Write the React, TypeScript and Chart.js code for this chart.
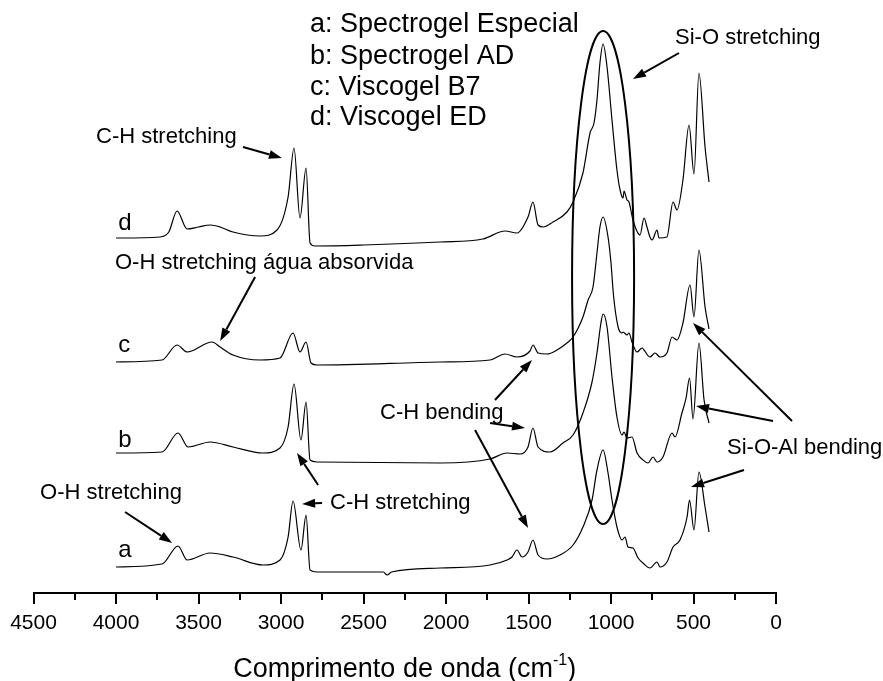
import React, { useEffect, useRef } from 'react';
import { Chart, registerables } from 'chart.js';

Chart.register(...registerables);

const FONT = "'Liberation Sans', Arial, Helvetica, sans-serif";

// ---- Spectra (wavenumber cm-1, absorbance + vertical offset, a.u.) ----
const A_WN = [4000, 3721, 3624, 3569, 3430, 3291, 3109, 3006, 2957, 2927, 2879, 2848, 2824, 2782, 2380, 2357, 2330, 2036, 1733, 1630, 1600, 1570, 1539, 1503, 1473, 1442, 1388, 1309, 1230, 1170, 1115, 1085, 1048, 1018, 994, 964, 933, 915, 897, 867, 836, 806, 764, 721, 703, 661, 624, 582, 539, 524, 497, 467, 430, 406];
const A_ABS = [2.6, 2.9, 4.7, 3.3, 4.0, 3.6, 2.8, 3.3, 5.6, 9.2, 4.3, 7.8, 2.3, 2.1, 2.1, 1.8, 2.1, 2.5, 2.8, 3.3, 3.6, 4.3, 3.6, 4.1, 5.3, 3.8, 3.4, 3.8, 4.8, 6.6, 9.3, 12.3, 14.3, 12.0, 9.3, 6.6, 5.3, 5.6, 4.6, 4.5, 3.5, 3.0, 2.5, 3.1, 2.6, 3.1, 4.6, 5.3, 7.6, 9.3, 6.3, 12.1, 8.6, 6.1];

const B_WN = [4000, 3721, 3624, 3563, 3430, 3291, 3109, 3006, 2957, 2921, 2879, 2848, 2824, 2782, 2036, 1733, 1630, 1551, 1503, 1473, 1442, 1370, 1291, 1230, 1170, 1115, 1085, 1061, 1048, 1024, 994, 964, 933, 921, 903, 873, 842, 806, 776, 745, 721, 685, 630, 612, 570, 545, 524, 503, 467, 436, 406];
const B_ABS = [14.0, 14.1, 16.0, 14.6, 15.1, 14.6, 14.0, 14.5, 16.6, 20.9, 15.3, 19.1, 13.3, 13.1, 13.0, 13.4, 14.0, 13.9, 14.6, 16.5, 14.6, 14.1, 15.0, 15.8, 18.0, 21.1, 24.0, 27.0, 27.9, 26.6, 21.6, 17.6, 15.8, 16.1, 15.5, 15.6, 14.0, 13.3, 13.0, 13.6, 13.1, 13.6, 16.0, 15.6, 18.0, 19.5, 21.5, 17.4, 25.0, 19.3, 17.0];

const C_WN = [4000, 3721, 3630, 3569, 3418, 3369, 3291, 3127, 3006, 2927, 2885, 2848, 2818, 2782, 2036, 1733, 1642, 1570, 1491, 1473, 1442, 1388, 1327, 1267, 1230, 1170, 1139, 1109, 1085, 1067, 1048, 1018, 1000, 985, 957, 933, 927, 903, 891, 873, 842, 812, 800, 764, 733, 703, 661, 630, 600, 564, 521, 497, 467, 430, 406];
const C_ABS = [23.1, 23.3, 24.8, 24.1, 25.1, 24.6, 23.8, 23.3, 23.5, 26.0, 24.1, 25.1, 23.0, 22.8, 23.1, 23.3, 23.9, 23.6, 24.2, 24.8, 24.0, 23.9, 24.3, 25.0, 25.6, 27.6, 29.3, 30.6, 34.0, 36.6, 37.6, 35.6, 33.0, 29.8, 26.6, 26.0, 26.1, 25.8, 26.0, 25.1, 24.1, 24.5, 24.3, 23.6, 24.0, 23.6, 24.0, 25.6, 25.3, 27.0, 30.8, 27.6, 34.3, 28.6, 26.4];

const D_WN = [4000, 3733, 3680, 3630, 3569, 3500, 3430, 3369, 3291, 3127, 3024, 2957, 2921, 2885, 2848, 2824, 2794, 2500, 2036, 1776, 1642, 1570, 1503, 1473, 1442, 1412, 1351, 1267, 1230, 1170, 1127, 1103, 1085, 1067, 1048, 1024, 994, 964, 945, 927, 921, 903, 891, 867, 824, 800, 782, 764, 751, 721, 709, 661, 624, 600, 564, 527, 497, 467, 430, 406];
const D_ABS = [35.5, 35.6, 36.1, 38.2, 36.4, 36.6, 36.8, 36.6, 36.1, 35.7, 36.3, 39.6, 44.5, 37.5, 42.5, 35.0, 34.7, 34.8, 35.1, 35.4, 36.2, 36.0, 37.6, 39.1, 36.8, 36.6, 37.1, 38.1, 39.1, 42.0, 46.0, 47.0, 49.3, 53.0, 54.9, 52.6, 47.3, 42.3, 40.3, 39.5, 40.2, 39.3, 39.1, 37.3, 35.8, 37.5, 36.6, 35.6, 35.3, 36.3, 35.5, 35.6, 39.1, 38.3, 41.3, 46.8, 41.9, 52.0, 44.6, 41.1];

const SERIES_NAMES = ['a: Spectrogel Especial', 'b: Spectrogel AD', 'c: Viscogel B7', 'd: Viscogel ED'];
const CURVE_TAGS = ['a', 'b', 'c', 'd'];
const CURVE_TAG_LEVELS = [3.6, 14.6, 24.1, 36.3];
const CURVE_TAG_WN = 3987;

const X_TICKS = [0, 500, 1000, 1500, 2000, 2500, 3000, 3500, 4000, 4500];
const MINOR_TICKS = [250, 750, 1250, 1750, 2250, 2750, 3250, 3750, 4250];
const X_TITLE = 'Comprimento de onda (cm';
const X_TITLE_SUP = '-1';

// legend text anchor (data units)
const LEGEND_WN = 2824;
const LEGEND_LEVELS = [56.8, 53.6, 50.5, 47.5];

// annotation labels: [text, wavenumber (left edge), level (middle)]
const NOTE_TEXT = ['Si-O stretching', 'C-H stretching', 'O-H stretching água absorvida', 'C-H bending', 'Si-O-Al bending', 'O-H stretching', 'C-H stretching'];
const NOTE_WN = [612, 4121, 4006, 2400, 297, 4460, 2703];
const NOTE_LEVEL = [55.5, 45.6, 33.0, 18.0, 14.5, 10.0, 9.0];

// arrows: tail (wn, level) -> head (wn, level)
const ARROW_TAIL_WN = [588, 3230, 3157, 1703, 1733, 1824, 2751, 2775, 3945, -97, 18, 194];
const ARROW_TAIL_LV = [54.0, 44.6, 31.6, 19.3, 17.0, 16.3, 9.0, 10.8, 8.1, 17.2, 17.2, 12.3];
const ARROW_HEAD_WN = [867, 2994, 3369, 1479, 1521, 1503, 2872, 2903, 3660, 503, 485, 515];
const ARROW_HEAD_LV = [51.4, 43.5, 25.2, 23.3, 16.5, 6.5, 8.9, 14.0, 5.0, 27.0, 18.7, 10.6];

// ellipse around Si-O band: centre and radii in data units
const ELLIPSE_WN = 1048;
const ELLIPSE_LV = 31.55;
const ELLIPSE_R_WN = 188;
const ELLIPSE_R_LV = 24.65;

function drawArrow(ctx: CanvasRenderingContext2D, x1: number, y1: number, x2: number, y2: number) {
  const ang = Math.atan2(y2 - y1, x2 - x1);
  const hl = 13;
  const hw = 4.5;
  const bx = x2 - hl * Math.cos(ang);
  const by = y2 - hl * Math.sin(ang);
  ctx.beginPath();
  ctx.moveTo(x1, y1);
  ctx.lineTo(bx, by);
  ctx.stroke();
  ctx.beginPath();
  ctx.moveTo(x2, y2);
  ctx.lineTo(bx + hw * Math.sin(ang), by - hw * Math.cos(ang));
  ctx.lineTo(bx - hw * Math.sin(ang), by + hw * Math.cos(ang));
  ctx.closePath();
  ctx.fill();
}

const annotationPlugin = {
  id: 'ftirAnnotations',
  afterDraw(chart: any) {
    const { ctx, chartArea } = chart;
    const xs = chart.scales.x;
    const ys = chart.scales.y;
    const X = (w: number) => xs.getPixelForValue(w);
    const Y = (v: number) => ys.getPixelForValue(v);
    ctx.save();
    ctx.strokeStyle = '#000';
    ctx.fillStyle = '#000';

    // minor ticks
    ctx.lineWidth = 2;
    MINOR_TICKS.forEach((t) => {
      const px = Math.round(X(t));
      ctx.beginPath();
      ctx.moveTo(px, chartArea.bottom);
      ctx.lineTo(px, chartArea.bottom + 7);
      ctx.stroke();
    });

    // ellipse
    const cx = X(ELLIPSE_WN);
    const cy = Y(ELLIPSE_LV);
    const rx = Math.abs(X(ELLIPSE_WN + ELLIPSE_R_WN) - cx);
    const ry = Math.abs(Y(ELLIPSE_LV + ELLIPSE_R_LV) - cy);
    ctx.lineWidth = 2;
    ctx.beginPath();
    ctx.ellipse(cx, cy, rx, ry, 0, 0, Math.PI * 2);
    ctx.stroke();

    // legend text
    ctx.textAlign = 'left';
    ctx.textBaseline = 'middle';
    ctx.font = `27px ${FONT}`;
    SERIES_NAMES.forEach((name, i) => {
      ctx.fillText(name, X(LEGEND_WN), Y(LEGEND_LEVELS[i]));
    });

    // curve tags
    ctx.textBaseline = 'alphabetic';
    ctx.font = `24px ${FONT}`;
    CURVE_TAGS.forEach((tag, i) => {
      ctx.fillText(tag, X(CURVE_TAG_WN), Y(CURVE_TAG_LEVELS[i]));
    });

    // notes
    ctx.textBaseline = 'middle';
    ctx.font = `22px ${FONT}`;
    NOTE_TEXT.forEach((t, i) => {
      ctx.fillText(t, X(NOTE_WN[i]), Y(NOTE_LEVEL[i]));
    });

    // arrows
    ctx.lineWidth = 2;
    ARROW_TAIL_WN.forEach((_, i) => {
      drawArrow(ctx, X(ARROW_TAIL_WN[i]), Y(ARROW_TAIL_LV[i]), X(ARROW_HEAD_WN[i]), Y(ARROW_HEAD_LV[i]));
    });

    // axis title with superscript
    const mainFont = `27px ${FONT}`;
    const supFont = `16px ${FONT}`;
    ctx.font = mainFont;
    const w1 = ctx.measureText(X_TITLE).width;
    const w3 = ctx.measureText(')').width;
    ctx.font = supFont;
    const w2 = ctx.measureText(X_TITLE_SUP).width;
    const total = w1 + w2 + w3;
    const midX = (chartArea.left + chartArea.right) / 2;
    let tx = midX - total / 2;
    const baseY = chartArea.bottom + 84;
    ctx.textBaseline = 'alphabetic';
    ctx.font = mainFont;
    ctx.fillText(X_TITLE, tx, baseY);
    tx += w1;
    ctx.font = supFont;
    ctx.fillText(X_TITLE_SUP, tx, baseY - 12);
    tx += w2;
    ctx.font = mainFont;
    ctx.fillText(')', tx, baseY);

    ctx.restore();
  },
};

function toPoints(wn: number[], ab: number[]) {
  return wn.map((x, i) => ({ x, y: ab[i] }));
}

export default function App() {
  const ref = useRef<HTMLCanvasElement | null>(null);

  useEffect(() => {
    if (!ref.current) return;
    Chart.defaults.font.family = FONT;
    const series = [
      toPoints(A_WN, A_ABS),
      toPoints(B_WN, B_ABS),
      toPoints(C_WN, C_ABS),
      toPoints(D_WN, D_ABS),
    ];
    const chart = new Chart(ref.current, {
      type: 'line',
      data: {
        datasets: series.map((pts, i) => ({
          label: SERIES_NAMES[i],
          data: pts,
          borderColor: '#000',
          borderWidth: 1.2,
          pointRadius: 0,
          fill: false,
          cubicInterpolationMode: 'monotone' as const,
        })),
      },
      options: {
        responsive: false,
        animation: false,
        events: [],
        layout: { padding: { top: 5, left: 33.5, right: 107, bottom: 0 } },
        plugins: { legend: { display: false }, tooltip: { enabled: false }, title: { display: false } },
        scales: {
          x: {
            type: 'linear',
            reverse: true,
            min: 0,
            max: 4500,
            afterBuildTicks: (scale: any) => {
              scale.ticks = X_TICKS.map((v) => ({ value: v }));
            },
            afterFit: (scale: any) => {
              scale.height = 88;
            },
            ticks: {
              color: '#000',
              font: { size: 21 },
              padding: 7,
              maxRotation: 0,
              autoSkip: false,
              callback: (v: any) => String(v),
            },
            grid: {
              display: true,
              drawOnChartArea: false,
              drawTicks: true,
              tickLength: 11,
              tickWidth: 2,
              tickColor: '#000',
              color: '#000',
              lineWidth: 2,
            },
            border: { display: true, color: '#000', width: 2 },
            title: { display: false },
          },
          y: {
            type: 'linear',
            display: false,
            min: 0,
            max: 58.8,
          },
        },
      },
      plugins: [annotationPlugin],
    });
    return () => chart.destroy();
  }, []);

  return (
    <div style={{ position: 'absolute', left: 0, top: 0, width: 883, height: 681, background: '#fff' }}>
      <canvas ref={ref} width={883} height={681} />
    </div>
  );
}
